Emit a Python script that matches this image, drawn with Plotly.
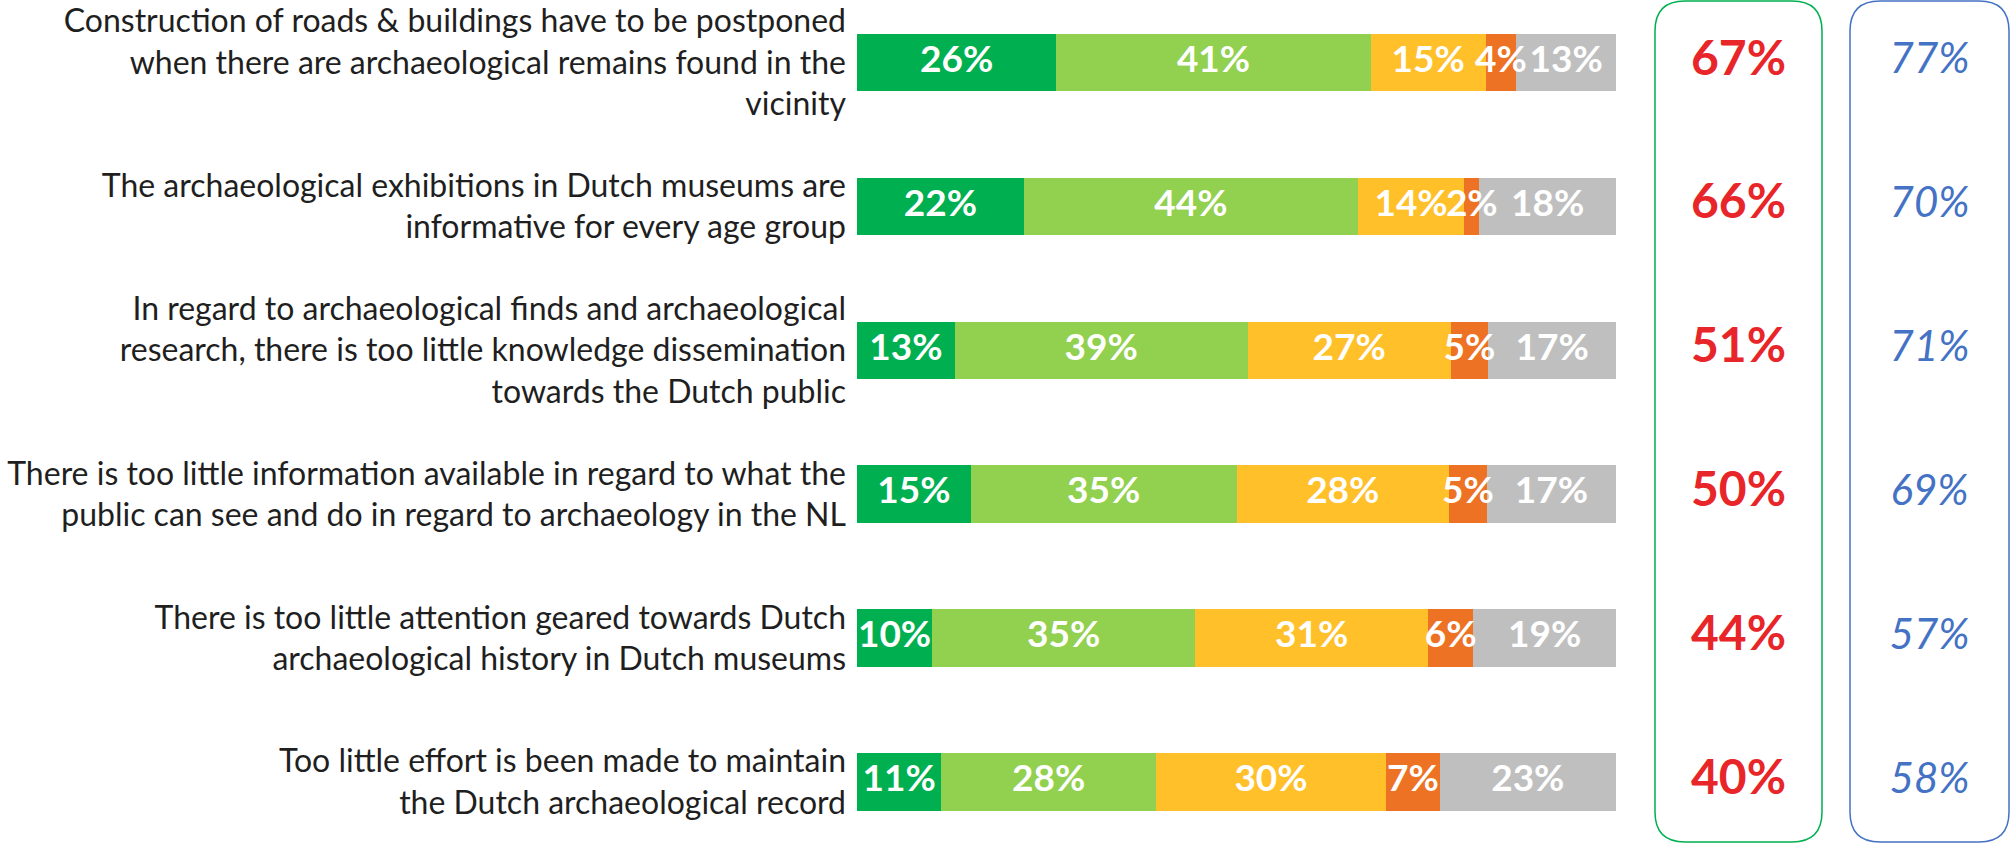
import plotly.graph_objects as go

W, H = 2011, 843

statements = [
    "Construction of roads & buildings have to be postponed<br>when there are archaeological remains found in the<br>vicinity",
    "The archaeological exhibitions in Dutch museums are<br>informative for every age group",
    "In regard to archaeological finds and archaeological<br>research, there is too little knowledge dissemination<br>towards the Dutch public",
    "There is too little information available in regard to what the<br>public can see and do in regard to archaeology in the NL",
    "There is too little attention geared towards Dutch<br>archaeological history in Dutch museums",
    "Too little effort is been made to maintain<br>the Dutch archaeological record",
]

strongly_agree = [26, 22, 13, 15, 10, 11]
agree = [41, 44, 39, 35, 35, 28]
neutral = [15, 14, 27, 28, 31, 30]
disagree = [4, 2, 5, 5, 6, 7]
unknown = [13, 18, 17, 17, 19, 23]

total_agree = [67, 66, 51, 50, 44, 40]
comparison = [77, 70, 71, 69, 57, 58]

series = [
    ("Strongly agree", strongly_agree, "#00B050"),
    ("Agree", agree, "#92D050"),
    ("Neutral", neutral, "#FFC02A"),
    ("Disagree", disagree, "#ED7224"),
    ("Don't know", unknown, "#BFBFBF"),
]

rows = list(range(len(statements)))

def px_x(p):
    return p / W

def px_y(p):
    return 1 - p / H

fig = go.Figure()

# stacked bars (normalised to 100%)
for name, vals, col in series:
    fig.add_trace(go.Bar(
        y=rows, x=vals, orientation="h", name=name,
        marker=dict(color=col, line=dict(width=0)),
        width=0.4, hoverinfo="skip",
        xaxis="x", yaxis="y",
    ))

# segment labels drawn on top of all bars (so small segments' labels stay visible)
row_totals = [sum(s[1][i] for s in series) for i in rows]
lab_x, lab_y, lab_t = [], [], []
for i in rows:
    cum = 0.0
    for _, vals, _ in series:
        v = vals[i]
        lab_x.append((cum + v / 2) / row_totals[i] * 100)
        lab_y.append(i)
        lab_t.append(f"<b>{v}%</b>")
        cum += v
fig.add_trace(go.Scatter(
    x=lab_x, y=lab_y, mode="text", text=lab_t,
    textposition="middle center",
    textfont=dict(family="Lato", size=37, color="white"),
    hoverinfo="skip", xaxis="x", yaxis="y", cliponaxis=False,
))

fig.add_trace(go.Scatter(
    x=[0.5] * len(rows), y=rows, mode="text",
    text=[f"<b>{v}%</b>" for v in total_agree],
    textposition="middle center",
    textfont=dict(family="Lato", size=48, color="#E8262A"),
    hoverinfo="skip", xaxis="x2", yaxis="y", cliponaxis=False,
))

fig.add_trace(go.Scatter(
    x=[0.5] * len(rows), y=rows, mode="text",
    text=[f"<i>{v}%</i>" for v in comparison],
    textposition="middle center",
    textfont=dict(family="Lato", size=42, color="#4472C4"),
    hoverinfo="skip", xaxis="x3", yaxis="y", cliponaxis=False,
))

def rounded_box(x0, y0, x1, y1, r):
    X0, X1 = px_x(x0), px_x(x1)
    Y0, Y1 = px_y(y0), px_y(y1)  # Y0 top, Y1 bottom (paper)
    rx, ry = r / W, r / H
    return (f"M {X0+rx},{Y0} L {X1-rx},{Y0} Q {X1},{Y0} {X1},{Y0-ry} "
            f"L {X1},{Y1+ry} Q {X1},{Y1} {X1-rx},{Y1} "
            f"L {X0+rx},{Y1} Q {X0},{Y1} {X0},{Y1+ry} "
            f"L {X0},{Y0-ry} Q {X0},{Y0} {X0+rx},{Y0} Z")

shapes = [
    dict(type="path", xref="paper", yref="paper",
         path=rounded_box(1655, 1, 1822, 842, 30),
         line=dict(color="#00B050", width=1.5), fillcolor="rgba(0,0,0,0)"),
    dict(type="path", xref="paper", yref="paper",
         path=rounded_box(1850, 1, 2009, 842, 30),
         line=dict(color="#4472C4", width=1.5), fillcolor="rgba(0,0,0,0)"),
]

row_px = 143.9
top_center = 62.5
y_top = -top_center / row_px
y_bot = y_top + H / row_px

fig.update_layout(
    width=W, height=H,
    margin=dict(l=0, r=0, t=0, b=0, autoexpand=False),
    paper_bgcolor="white", plot_bgcolor="white",
    barmode="stack", barnorm="percent",
    showlegend=False,
    font=dict(family="Lato", color="#1f1f1f"),
    shapes=shapes,
    xaxis=dict(domain=[px_x(857), px_x(1616)], range=[0, 100], automargin=False,
               showgrid=False, zeroline=False, showticklabels=False, fixedrange=True),
    xaxis2=dict(domain=[px_x(1655), px_x(1822)], range=[0, 1], anchor="y",
                automargin=False, visible=False),
    xaxis3=dict(domain=[px_x(1850), px_x(2009)], range=[0, 1], anchor="y",
                automargin=False, visible=False),
    yaxis=dict(range=[y_bot, y_top], tickvals=rows, ticktext=statements,
               automargin=False,
               showgrid=False, zeroline=False, showline=False, ticks="",
               ticklabelstandoff=10,
               tickfont=dict(family="Lato", size=32, color="#1f1f1f")),
)

fig.write_html("out.html", config={"displayModeBar": False},
               post_script="document.body.style.margin='0px';")
